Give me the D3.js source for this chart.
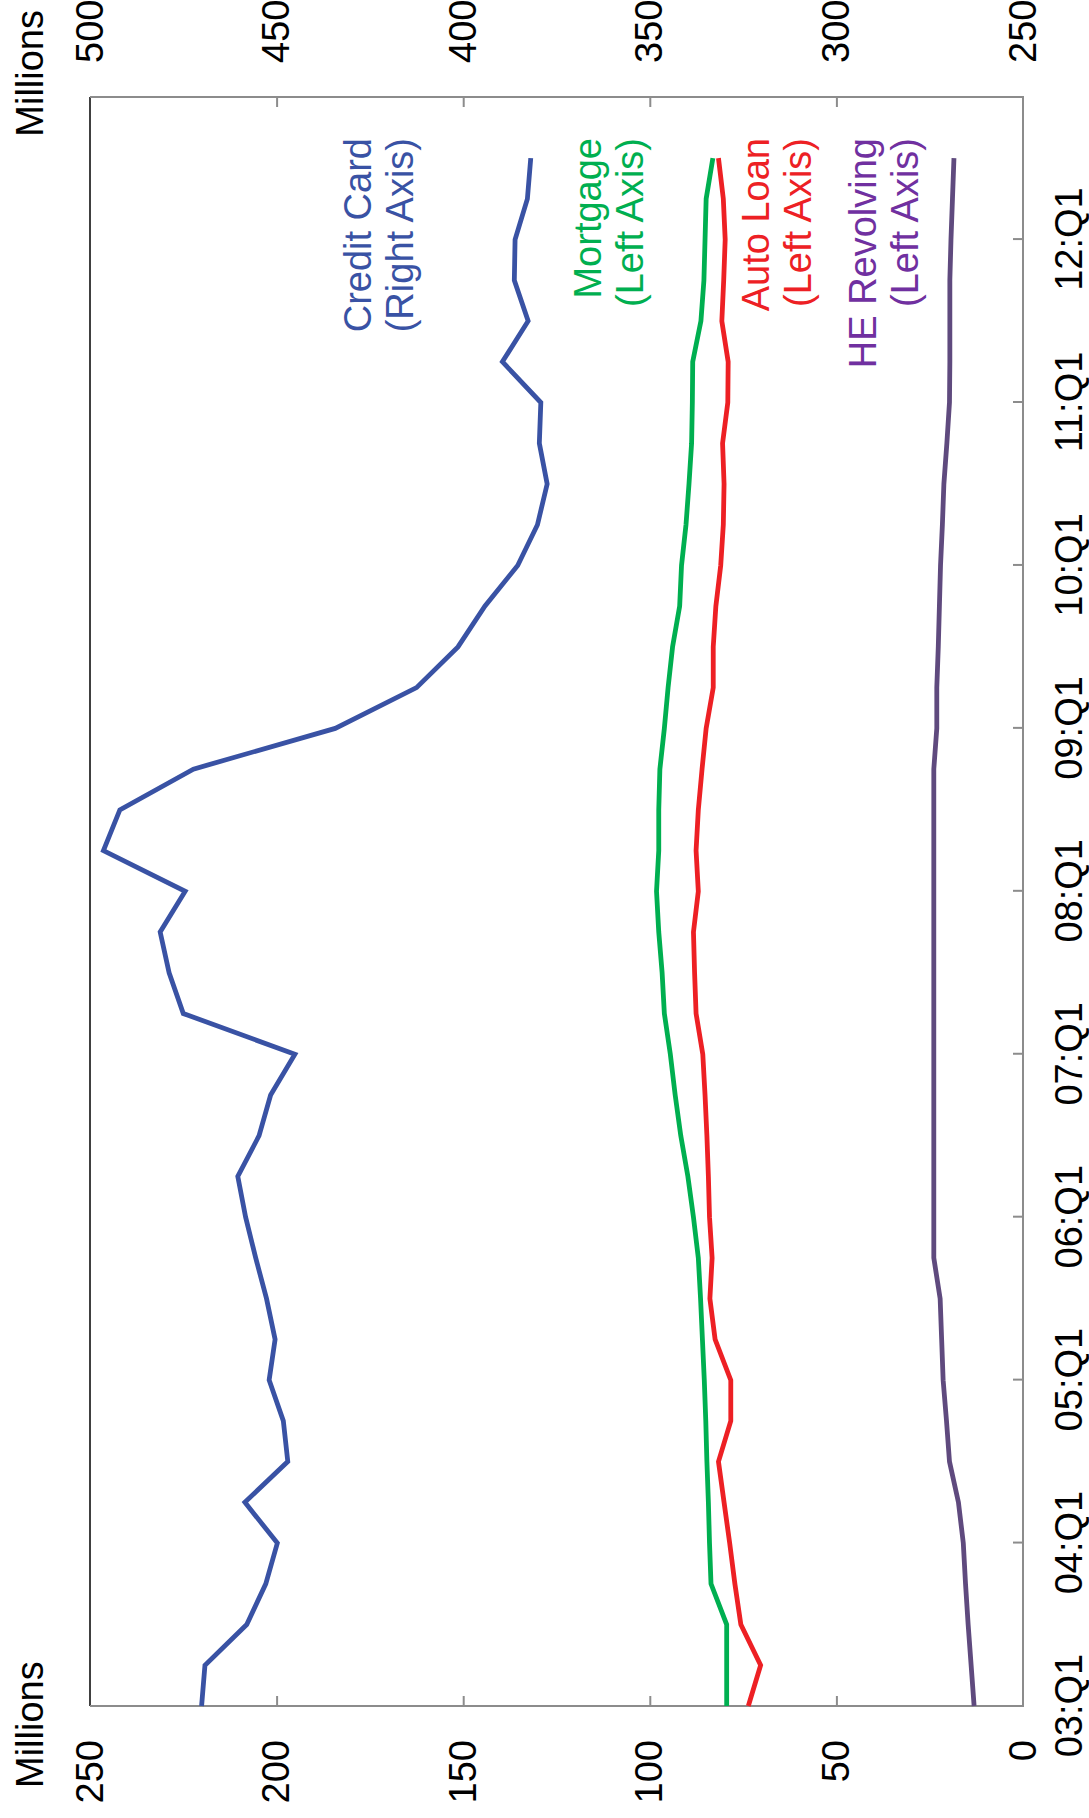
<!DOCTYPE html>
<html>
<head>
<meta charset="utf-8">
<script src="https://cdn.jsdelivr.net/npm/d3@7/dist/d3.min.js"></script>
<style>
  body { margin: 0; background: #fff; }
  text { font-family: "Liberation Sans", Arial, Helvetica, sans-serif; }
</style>
</head>
<body>
<div id="chart"></div>
<script>
// quarters 03:Q1 .. 12:Q3
var quarters = ["03:Q1","03:Q2","03:Q3","03:Q4","04:Q1","04:Q2","04:Q3","04:Q4",
  "05:Q1","05:Q2","05:Q3","05:Q4","06:Q1","06:Q2","06:Q3","06:Q4",
  "07:Q1","07:Q2","07:Q3","07:Q4","08:Q1","08:Q2","08:Q3","08:Q4",
  "09:Q1","09:Q2","09:Q3","09:Q4","10:Q1","10:Q2","10:Q3","10:Q4",
  "11:Q1","11:Q2","11:Q3","11:Q4","12:Q1","12:Q2","12:Q3"];

var timeTicks = ["03:Q1","04:Q1","05:Q1","06:Q1","07:Q1","08:Q1","09:Q1","10:Q1","11:Q1","12:Q1"];
var leftTicks = [0, 50, 100, 150, 200, 250];
var rightTicks = [250, 300, 350, 400, 450, 500];

// millions of accounts
var creditCard = [470.1, 469.2, 458.0, 452.9, 449.8, 458.5, 447.0, 448.2, 452.0, 450.4,
  452.7, 455.6, 458.3, 460.4, 454.7, 451.6, 445.1, 475.0, 478.8, 481.2,
  474.5, 496.4, 492.0, 472.3, 434.3, 412.5, 401.4, 394.2, 385.4, 380.1,
  377.5, 379.6, 379.2, 389.5, 382.6, 386.3, 386.1, 382.8, 381.9];
var mortgage = [79.4, 79.4, 79.4, 83.6, 84.0, 84.3, 84.7, 85.0, 85.4, 85.9,
  86.4, 87.0, 88.3, 89.8, 91.7, 93.2, 94.5, 96.1, 96.7, 97.6,
  98.2, 97.6, 97.6, 97.3, 96.1, 95.1, 93.9, 92.0, 91.5, 90.3,
  89.5, 88.8, 88.6, 88.5, 86.3, 85.5, 85.2, 84.9, 83.1];
var autoLoan = [73.6, 70.3, 75.6, 77.2, 78.6, 80.1, 81.6, 78.3, 78.3, 82.5,
  83.9, 83.3, 84.0, 84.3, 84.7, 85.2, 85.8, 87.6, 88.0, 88.3,
  87.0, 87.6, 87.0, 86.0, 84.9, 83.0, 83.0, 82.3, 81.0, 80.3,
  80.1, 80.5, 79.1, 79.0, 80.7, 80.2, 79.8, 80.3, 81.6];
var heRevolving = [13.1, 13.9, 14.7, 15.4, 16.0, 17.3, 19.7, 20.5, 21.4, 21.8,
  22.2, 23.9, 23.9, 23.9, 23.9, 23.9, 23.9, 23.9, 23.9, 23.9,
  23.9, 23.9, 23.9, 23.9, 23.1, 23.1, 22.7, 22.4, 22.1, 21.6,
  21.2, 20.4, 19.7, 19.6, 19.6, 19.6, 19.3, 18.9, 18.5];

var W = 1089, H = 1818;
// chart is drawn landscape, then turned a quarter turn counter-clockwise
var pLeft = 112, pRight = 1721, pTop = 90, pBottom = 1023;
var fontSize = 38;

var svg = d3.select("#chart").append("svg")
  .attr("width", W).attr("height", H);

var g = svg.append("g")
  .attr("transform", "translate(0," + H + ") rotate(-90)");

var x = d3.scaleLinear().domain([0, 39.5]).range([pLeft, pRight]);
var yL = d3.scaleLinear().domain([0, 250]).range([pBottom, pTop]);
var yR = d3.scaleLinear().domain([250, 500]).range([pBottom, pTop]);

// axes
var xAxis = d3.axisBottom(x)
  .tickValues(timeTicks.map(function(t){ return quarters.indexOf(t); }))
  .tickFormat(function(d){ return quarters[d]; })
  .tickSize(-10).tickPadding(32);
var lAxis = d3.axisLeft(yL).tickValues(leftTicks).tickSize(-10).tickPadding(34);
var rAxis = d3.axisRight(yR).tickValues(rightTicks).tickSize(-10).tickPadding(34);

var gx = g.append("g").attr("transform", "translate(0," + pBottom + ")").call(xAxis);
var gl = g.append("g").attr("transform", "translate(" + pLeft + ",0)").call(lAxis);
var gr = g.append("g").attr("transform", "translate(" + pRight + ",0)").call(rAxis);

[gx, gl, gr].forEach(function(a){
  a.select(".domain").remove();
  a.attr("font-family", null).attr("font-size", null);
  a.selectAll(".tick line").attr("stroke", "#8c8c8c").attr("stroke-width", 2);
  a.selectAll(".tick text").attr("font-size", fontSize).attr("fill", "#000");
});
// end ticks sit on the frame corners
gl.selectAll(".tick line").filter(function(d){ return d == 0 || d == 250; }).remove();
gr.selectAll(".tick line").filter(function(d){ return d == 250 || d == 500; }).remove();
gx.selectAll(".tick line").filter(function(d){ return d == 0; }).remove();

// frame
g.append("line").attr("x1", pLeft).attr("x2", pRight).attr("y1", pTop).attr("y2", pTop)
  .attr("stroke", "#000").attr("stroke-width", 1.5);
g.append("path")
  .attr("d", "M" + pLeft + "," + pTop + "V" + pBottom + "H" + pRight + "V" + pTop)
  .attr("fill", "none").attr("stroke", "#8c8c8c").attr("stroke-width", 2);

// units
g.append("text").attr("x", 30).attr("y", 43)
  .attr("font-size", fontSize).text("Millions");
g.append("text").attr("x", 1808).attr("y", 43).attr("text-anchor", "end")
  .attr("font-size", fontSize).text("Millions");

// series
var series = [
  { name: "Credit Card", values: creditCard, scale: yR, color: "#3952A4" },
  { name: "Mortgage", values: mortgage, scale: yL, color: "#00AF50" },
  { name: "Auto Loan", values: autoLoan, scale: yL, color: "#ED2024" },
  { name: "HE Revolving", values: heRevolving, scale: yL, color: "#5F4A7E" }
];

series.forEach(function(s){
  var line = d3.line()
    .x(function(d, i){ return x(i); })
    .y(function(d){ return s.scale(d); });
  g.append("path")
    .datum(s.values)
    .attr("d", line)
    .attr("fill", "none")
    .attr("stroke", s.color)
    .attr("stroke-width", 4.8)
    .attr("stroke-linejoin", "miter");
});

// labels
var labels = [
  { lines: ["Credit Card", "(Right Axis)"], color: "#3952A4", y: 371 },
  { lines: ["Mortgage", "(Left Axis)"], color: "#00AF50", y: 601 },
  { lines: ["Auto Loan", "(Left Axis)"], color: "#ED2024", y: 769 },
  { lines: ["HE Revolving", "(Left Axis)"], color: "#7030A0", y: 876 }
];
labels.forEach(function(l){
  var t = g.append("text")
    .attr("text-anchor", "end")
    .attr("font-size", 38)
    .attr("fill", l.color);
  l.lines.forEach(function(txt, i){
    t.append("tspan").attr("x", 1680).attr("y", l.y + i * 41.5).text(txt);
  });
});
</script>
</body>
</html>
